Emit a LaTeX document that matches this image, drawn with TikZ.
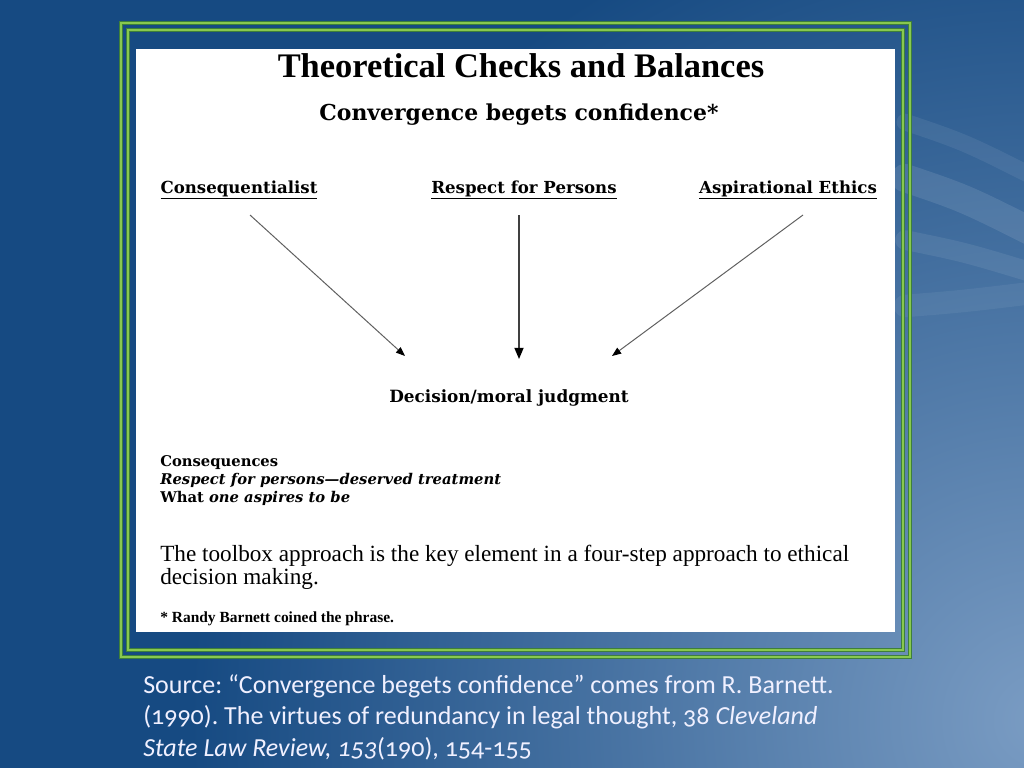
\documentclass[tikz,border=0pt]{standalone}
\usepackage{fontspec}
\setmainfont{Liberation Serif}
\newfontfamily\scanserif{DejaVu Serif}
\newfontfamily\slidefont[Numbers=OldStyle]{Carlito}
\usetikzlibrary{arrows.meta, positioning, calc}
\definecolor{slideblue}{RGB}{22,74,130}
\definecolor{slidelight}{RGB}{122,156,195}
\definecolor{framegreen}{RGB}{136,200,80}
\definecolor{framedark}{RGB}{62,128,58}
\definecolor{linegray}{RGB}{95,95,95}

\begin{document}
\frenchspacing
\begin{tikzpicture}[x=0.025cm, y=-0.025cm,
    title_text/.style={font=\bfseries\fontsize{24.5}{28}\selectfont, inner sep=0pt},
    motto_text/.style={font=\scanserif\bfseries\fontsize{15.6}{18}\selectfont, inner sep=0pt},
    head_label/.style={font=\scanserif\bfseries\fontsize{11.8}{13}\selectfont, inner sep=0pt},
    list_text/.style={font=\scanserif\bfseries\fontsize{10.5}{12.8}\selectfont, align=left, inner sep=0pt, anchor=north west},
    body_text/.style={font=\fontsize{16.5}{15}\selectfont, align=left, inner sep=0pt, anchor=north west},
    note_text/.style={font=\bfseries\fontsize{11}{13}\selectfont, inner sep=0pt, anchor=west},
    source_text/.style={font=\slidefont\fontsize{18.5}{22.5}\selectfont, text=white!94!blue, align=left, inner sep=0pt, anchor=north west},
    arrow/.style={-{Triangle[length=6.5pt, width=5pt, color=black]}, line width=0.7pt, draw=linegray},
    frame_line/.style={line width=2.6pt, draw=framedark, postaction={draw=framegreen, line width=1.3pt}}
]
    \useasboundingbox (0,0) rectangle (1024,768);

    % slide background
    \fill[slideblue] (0,0) rectangle (1024,768);
    \begin{scope}
        \clip (0,0) rectangle (1024,768);
        \shade[inner color=slidelight, outer color=slideblue] (1040,720) circle (850);
        % light streaks on the right
        \foreach \ya/\yb/\w/\o in {122/180/12/0.07, 178/236/20/0.10, 240/275/14/0.08, 306/292/16/0.06}
            \draw[white, opacity=\o, line width=\w, line cap=round]
                (905,\ya) .. controls (965,{\ya+0.35*(\yb-\ya)}) .. (1040,\yb);
    \end{scope}

    % green double frame and the white page
    \draw[frame_line] (121,23) rectangle (910,657);
    \draw[frame_line] (128,30) rectangle (903,650);
    \fill[white] (136,49) rectangle (895,632);

    % titles
    \node[title_text] (title) at (521,66) {Theoretical Checks and Balances};
    \node[motto_text] (motto) at (519,115) {Convergence begets confidence*};

    % the three theories
    \node[head_label] (cons) at (239,190) {\underline{Consequentialist}};
    \node[head_label] (resp) at (524,190) {\underline{Respect for Persons}};
    \node[head_label] (asp) at (788,190) {\underline{Aspirational Ethics}};

    \node[head_label, font=\scanserif\bfseries\fontsize{12}{14}\selectfont] (dec) at (509,398) {Decision/moral judgment};

    % arrows into the decision
    \coordinate (cons_out) at (250,215);
    \coordinate (resp_out) at (519,215);
    \coordinate (asp_out) at (803,215);
    \coordinate (cons_in) at (405,356);
    \coordinate (resp_in) at (519,359);
    \coordinate (asp_in) at (612,356);
    \draw[arrow] (cons_out) -- (cons_in);
    \draw[arrow, line width=1pt, draw=black!75, -{Triangle[length=8pt, width=6.5pt, color=black]}] (resp_out) -- (resp_in);
    \draw[arrow] (asp_out) -- (asp_in);

    % what each one looks at
    \node[list_text] (looks) at (160,455) {Consequences\\
        \textit{Respect for persons—deserved treatment}\\
        What \textit{one aspires to be}};

    \node[body_text] (toolbox) at (160,545) {The toolbox approach is the key element in a four-step approach to ethical\\
        decision making.};

    \node[note_text] (note) at (160,619) {* Randy Barnett coined the phrase.};

    % source below the frame
    \node[source_text] (source) at (143,674) {Source: “Convergence begets confidence” comes from R. Barnett.\\
        (1990). The virtues of redundancy in legal thought, 38 \textit{Cleveland}\\
        \textit{State Law Review, 153}(190), 154-155};

\end{tikzpicture}
\end{document}
